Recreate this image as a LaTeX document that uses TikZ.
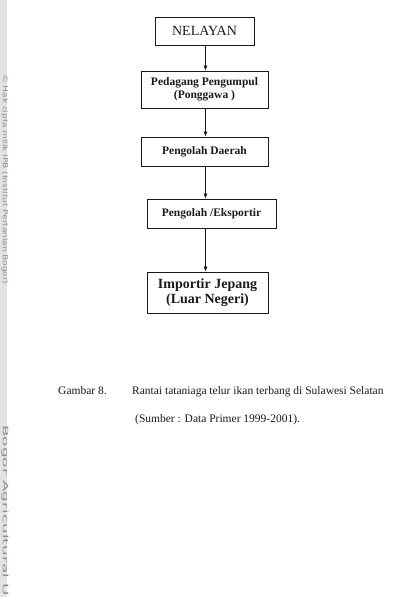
\documentclass[tikz,border=0pt]{standalone}
\usepackage{fontspec}
\setmainfont{Liberation Serif}
\newfontfamily\wmfont{DejaVu Sans}
\usetikzlibrary{arrows.meta}
\definecolor{wmgray}{HTML}{E3E3E3}
\definecolor{wmtext}{HTML}{8C8CA6}
\definecolor{ink}{HTML}{1A1A1A}
\begin{document}
\begin{tikzpicture}[x=1pt,y=-1pt,
  box/.style={draw=ink, line width=0.8pt, inner sep=0pt, align=center, text=ink},
  boldbox/.style={box, font=\bfseries\fontsize{11.5}{13}\selectfont},
  conn/.style={draw=ink, line width=0.7pt, -{Latex[length=5pt,width=4pt]}},
  captext/.style={anchor=base west, inner sep=0pt, text=ink, font=\fontsize{11.5}{14}\selectfont},
  wm/.style={rotate=-90, anchor=west, inner sep=0pt, text=wmtext}
]
\useasboundingbox (0,0) rectangle (415,597);
% watermark strip
\fill[wmgray] (0,0) rectangle (7,597);
\node[wm, font=\wmfont\fontsize{7}{8}\selectfont] (wm1) at (4.8,74) {\scalebox{1.27}[1]{© Hak cipta milik IPB (Institut Pertanian Bogor)}};
\node[wm, font=\wmfont\fontsize{7.5}{8}\selectfont] (wm2) at (5,425) {\scalebox{2.25}[1]{Bogor Agricultural U}};
% boxes
\node[box, minimum width=99pt, minimum height=28pt, font=\fontsize{14}{16}\selectfont] (n1) at (204.5,31) {NELAYAN};
\node[boldbox, minimum width=127pt, minimum height=37pt] (n2) at (204.5,89.5) {Pedagang Pengumpul\\(Ponggawa )};
\node[boldbox, minimum width=127pt, minimum height=29pt] (n3) at (204.5,151.5) {Pengolah Daerah};
\node[boldbox, minimum width=129pt, minimum height=29pt] (n4) at (211.5,213.5) {Pengolah /Eksportir};
\node[box, minimum width=121pt, minimum height=41pt, font=\bfseries\fontsize{14}{15}\selectfont] (n5) at (207.5,292.5) {Importir Jepang\\(Luar Negeri)};
% connectors
\coordinate (ax) at (205.5,0);
\draw[conn] (n1.south -| ax) -- (n2.north -| ax);
\draw[conn] (n2.south -| ax) -- (n3.north -| ax);
\draw[conn] (n3.south -| ax) -- (n4.north -| ax);
\draw[conn] (n4.south -| ax) -- (n5.north -| ax);
% caption
\node[captext] (g) at (58,394) {Gambar 8.};
\node[captext] (c1) at (132,394) {Rantai tataniaga telur ikan terbang di Sulawesi Selatan};
\node[captext] (c2) at (135,422) {(Sumber : Data Primer 1999-2001).};
\end{tikzpicture}
\end{document}
